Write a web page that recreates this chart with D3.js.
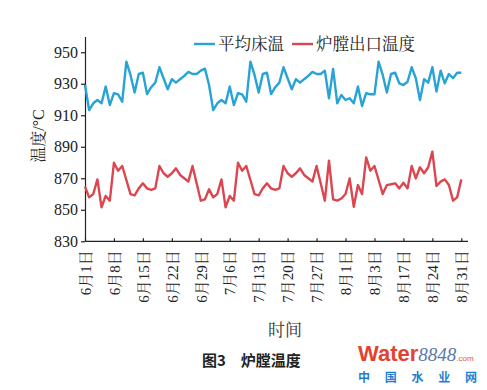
<!DOCTYPE html>
<html><head><meta charset="utf-8">
<script src="https://cdn.jsdelivr.net/npm/d3@7/dist/d3.min.js"></script>
<style>body{margin:0;background:#fff}svg{display:block}</style>
</head><body><svg id="c" width="487" height="390"></svg>
<script>
const tickLabels = ["6月1日","6月8日","6月15日","6月22日","6月29日","7月6日","7月13日","7月20日","7月27日","8月1日","8月3日","8月17日","8月24日","8月31日"];
const yTicks = [830,850,870,890,910,930,950];
const seriesNames = ["平均床温","炉膛出口温度"];
const seriesColors = ["#27a3d5","#dc4650"];
const bedTemp = [
 929.2,913.3,917.6,919.7,917.6,928.2,916.5,924,923.3,918.6,944,935.6,924.4,936.2,937,923.5,927.8,930.7,940.5,933.5,926.5,932.9,930.7,932.9,935,937.5,936.2,936.2,938.3,939.6,
 929.2,913.3,917.6,919.7,917.6,928.2,916.5,924,923.3,918.6,944,935.6,924.4,936.2,937,923.5,927.8,930.7,940.5,933.5,926.5,932.9,930.7,932.9,935,937.5,936.2,936.2,938.3,920.8,939.4,
 917.6,922.9,919.7,920.8,917.6,928.2,915.9,924,923.3,923.3,944,935.6,924.4,936.2,937,930.3,929.2,931.3,940.5,933.5,919.7,932.9,930.7,940.5,925,938.3,930.3,936.2,933.5,937,937
];
const outletTemp = [
 864.7,857.9,860,869.3,851.6,858.8,855.8,879.9,874.8,877.8,868.9,860,859.2,863.6,866.8,863.6,862.6,863.6,877.8,873.2,871,873.2,876.3,872.1,870,867.9,877.8,866.8,855.8,856.6,
 863,857.9,860,869.3,851.6,858.8,855.8,879.9,874.8,877.8,868.9,860,859.2,863.6,866.8,863.6,862.6,863.6,877.8,873.2,871,873.2,876.3,872.1,870,867.9,877.8,866.8,855.8,881.2,856.6,
 855.8,857.2,860,869.9,851.9,865.7,860,883.3,874.8,877.8,868.9,860,865.7,866.2,866.8,863.6,867.2,863.6,877.8,869.9,877,873.2,877,886.9,865.1,867.9,869.3,865.7,855.8,857.9,869.3
];

const serif = "'Liberation Serif','Noto Serif CJK SC','Noto Sans CJK SC',serif";
const svg = d3.select("#c");
const n = bedTemp.length;
const x = d3.scaleLinear().domain([0, n - 1]).range([85, 461.3]);
const y = d3.scaleLinear().domain([830, 960]).range([241.3, 36.5]);

// y axis
const ya = svg.append("g").attr("transform","translate(85,0)")
  .call(d3.axisLeft(y).tickValues(yTicks).tickSize(4).tickSizeOuter(0).tickPadding(3));
ya.select(".domain").attr("stroke","#222").attr("stroke-width",1.2);
ya.selectAll(".tick line").attr("stroke","#222").attr("stroke-width",1.2);
ya.selectAll("text").attr("font-family",serif).attr("font-size",16).attr("fill","#222");

// x axis
const xa = svg.append("g").attr("transform","translate(0,241.3)")
  .call(d3.axisBottom(x).tickValues(d3.range(0, n, 7)).tickSize(-3).tickSizeOuter(0)
    .tickFormat((d,i)=>tickLabels[i]));
xa.select(".domain").remove();
xa.append("line").attr("x1",85).attr("x2",468).attr("y1",0).attr("y2",0)
  .attr("stroke","#222").attr("stroke-width",1.2);
xa.selectAll(".tick line").attr("stroke","#222").attr("stroke-width",1.2);
xa.selectAll("text").attr("font-family",serif).attr("font-size",15).attr("fill","#222")
  .attr("transform","rotate(-90)").attr("text-anchor","end")
  .attr("x",-9).attr("y",0).attr("dy","0.35em");

// lines
const line = d3.line().x((d,i)=>x(i)).y(d=>y(d));
[bedTemp, outletTemp].forEach((s,k)=>{
  svg.append("path").datum(s).attr("d",line).attr("fill","none")
    .attr("stroke",seriesColors[k]).attr("stroke-width",2.4).attr("stroke-linejoin","round");
});

// legend
const legX = [194, 292];
seriesNames.forEach((nm,k)=>{
  const g = svg.append("g").attr("transform",`translate(${legX[k]},44)`);
  g.append("line").attr("x1",0).attr("x2",21).attr("stroke",seriesColors[k]).attr("stroke-width",2.4);
  g.append("text").attr("x",24).attr("y",6).attr("font-family",serif).attr("font-size",16.5)
    .attr("fill","#222").text(nm);
});

// axis titles
svg.append("text").attr("transform","translate(44,136) rotate(-90)").attr("text-anchor","middle")
  .attr("font-family",serif).attr("font-size",16).attr("fill","#222").text("温度/°C");
svg.append("text").attr("x",285).attr("y",336).attr("text-anchor","middle")
  .attr("font-family",serif).attr("font-size",17).attr("fill","#333").text("时间");

// caption
svg.append("text").attr("x",202).attr("y",366).attr("font-family","'Noto Sans CJK SC',sans-serif")
  .attr("font-weight","bold").attr("font-size",15).attr("fill","#222").text("图3　炉膛温度");

// watermark
const wm = svg.append("text").attr("x",358).attr("y",361);
wm.append("tspan").attr("font-family","'Liberation Sans',Arial,sans-serif").attr("font-weight","bold")
  .attr("font-size",22).attr("fill","#e5412f").text("Water");
wm.append("tspan").attr("font-family","'Liberation Serif',serif").attr("font-style","italic")
  .attr("font-size",19).attr("fill","#5a78ad").text("8848");
wm.append("tspan").attr("font-family","'Liberation Sans',sans-serif").attr("font-size",8)
  .attr("fill","#e05a2a").text(".com");
svg.append("text").attr("x",358).attr("y",382).attr("textLength",119).attr("lengthAdjust","spacing")
  .attr("font-family","'Noto Sans CJK SC',sans-serif").attr("font-weight","bold").attr("font-size",12)
  .attr("fill","#1f7fd0").text("中国水业网");
</script></body></html>
